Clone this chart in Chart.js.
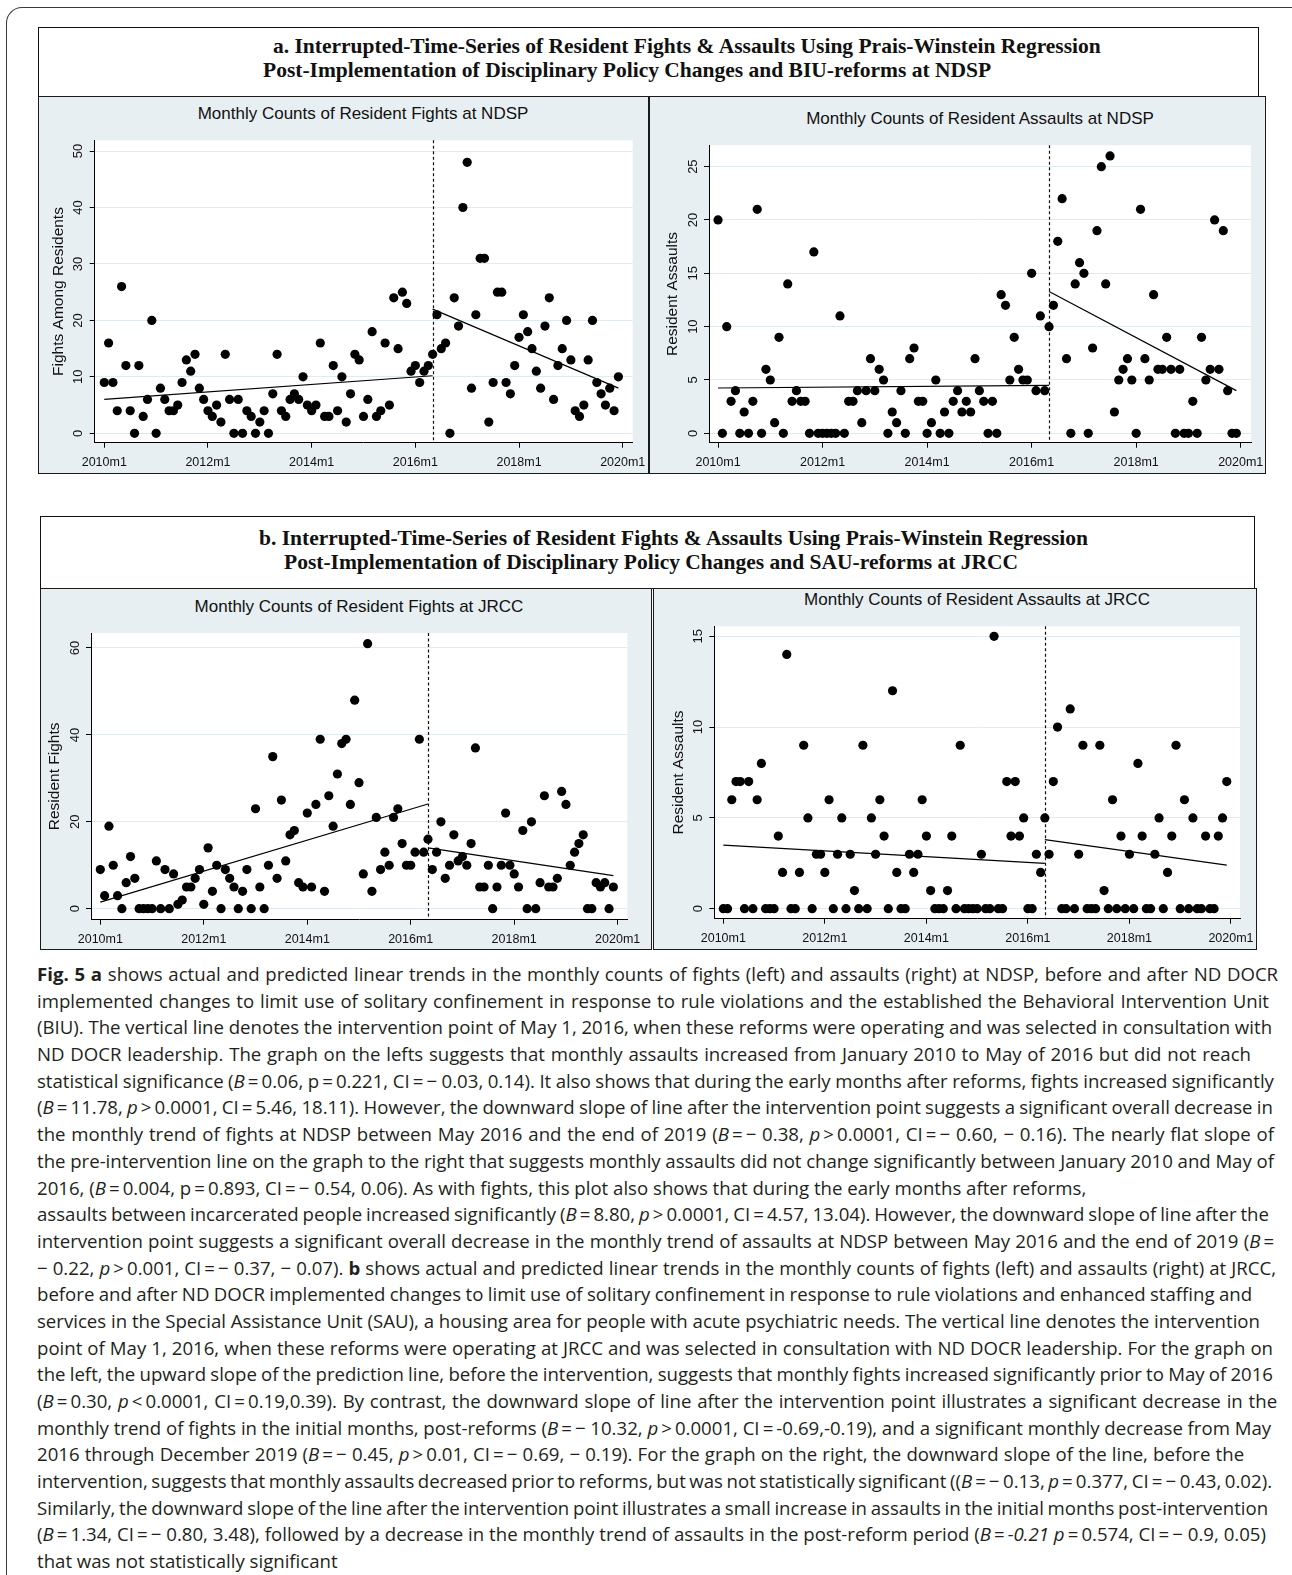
<!DOCTYPE html>
<html>
<head>
<meta charset="utf-8">
<title>Fig. 5 Interrupted time series, NDSP and JRCC</title>
<script src="https://cdn.jsdelivr.net/npm/chart.js@4.4.1/dist/chart.umd.min.js"></script>
<style>
  html, body { margin: 0; padding: 0; background: #fff; }
  body { position: relative; width: 1292px; height: 1575px; overflow: hidden; font-family: "Liberation Sans", Arial, sans-serif; color: #111; }
  .frame { position: absolute; left: 6px; top: 7px; width: 1400px; height: 1700px; border-left: 1.5px solid #3a3a3a; border-top: 1.5px solid #3a3a3a; border-top-left-radius: 16px; }
  .tbox { position: absolute; background: #fff; border: 1.5px solid #111; box-sizing: border-box; }
  .tline { position: absolute; white-space: nowrap; font-family: "Liberation Serif", "Times New Roman", serif; font-weight: bold; font-size: 21.5px; line-height: 24px; color: #111; }
  .panel { position: absolute; background: #e8eff2; border: 1.5px solid #1a1a1a; box-sizing: border-box; }
  canvas { position: absolute; }
  .ptitle { position: absolute; white-space: nowrap; font-size: 17px; line-height: 20px; transform: translateX(-50%); color: #111; }
  #caption { position: absolute; left: 37px; top: 961px; font-family: "Open Sans", sans-serif; font-size: 17px; color: #231f20; }
  #caption div { white-space: nowrap; width: max-content; height: 26.7px; line-height: 26.7px; }
</style>
</head>
<body>
<div class="frame"></div>

<div class="tbox" style="left:38px; top:27px; width:1221px; height:70px;"></div>
<div class="tline" style="left:273px; top:34px;">a. Interrupted-Time-Series of Resident Fights &amp; Assaults Using Prais-Winstein Regression</div>
<div class="tline" style="left:263px; top:58px;">Post-Implementation of Disciplinary Policy Changes and BIU-reforms at NDSP</div>

<div class="panel" style="left:38px; top:96px; width:611px; height:378px;"></div>
<div class="panel" style="left:649px; top:96px; width:617px; height:378px;"></div>
<div class="ptitle" style="left:363px; top:104px;">Monthly Counts of Resident Fights at NDSP</div>
<div class="ptitle" style="left:980px; top:109px;">Monthly Counts of Resident Assaults at NDSP</div>
<canvas id="ndspFightsChart"></canvas>
<canvas id="ndspAssaultsChart"></canvas>

<div class="tbox" style="left:40px; top:516px; width:1215px; height:73px;"></div>
<div class="tline" style="left:259px; top:526px;">b. Interrupted-Time-Series of Resident Fights &amp; Assaults Using Prais-Winstein Regression</div>
<div class="tline" style="left:284px; top:550px;">Post-Implementation of Disciplinary Policy Changes and SAU-reforms at JRCC</div>

<div class="panel" style="left:40px; top:588px; width:612px; height:362px;"></div>
<div class="panel" style="left:653px; top:588px; width:604px; height:362px;"></div>
<div class="ptitle" style="left:359px; top:597px;">Monthly Counts of Resident Fights at JRCC</div>
<div class="ptitle" style="left:977px; top:590px;">Monthly Counts of Resident Assaults at JRCC</div>
<canvas id="jrccFightsChart"></canvas>
<canvas id="jrccAssaultsChart"></canvas>

<div id="caption">
<div><b>Fig. 5 a</b> shows actual and predicted linear trends in the monthly counts of fights (left) and assaults (right) at NDSP, before and after ND DOCR</div>
<div>implemented changes to limit use of solitary confinement in response to rule violations and the established the Behavioral Intervention Unit</div>
<div>(BIU). The vertical line denotes the intervention point of May 1, 2016, when these reforms were operating and was selected in consultation with</div>
<div>ND DOCR leadership. The graph on the lefts suggests that monthly assaults increased from January 2010 to May of 2016 but did not reach</div>
<div>statistical significance (<i>B</i>&thinsp;=&thinsp;0.06, p&thinsp;=&thinsp;0.221, CI&thinsp;=&thinsp;− 0.03, 0.14). It also shows that during the early months after reforms, fights increased significantly</div>
<div>(<i>B</i>&thinsp;=&thinsp;11.78, <i>p</i>&thinsp;&gt;&thinsp;0.0001, CI&thinsp;=&thinsp;5.46, 18.11). However, the downward slope of line after the intervention point suggests a significant overall decrease in</div>
<div>the monthly trend of fights at NDSP between May 2016 and the end of 2019 (<i>B</i>&thinsp;=&thinsp;− 0.38, <i>p</i>&thinsp;&gt;&thinsp;0.0001, CI&thinsp;=&thinsp;− 0.60, − 0.16). The nearly flat slope of</div>
<div>the pre-intervention line on the graph to the right that suggests monthly assaults did not change significantly between January 2010 and May of</div>
<div>2016, (<i>B</i>&thinsp;=&thinsp;0.004, p&thinsp;=&thinsp;0.893, CI&thinsp;=&thinsp;− 0.54, 0.06). As with fights, this plot also shows that during the early months after reforms,</div>
<div>assaults between incarcerated people increased significantly (<i>B</i>&thinsp;=&thinsp;8.80, <i>p</i>&thinsp;&gt;&thinsp;0.0001, CI&thinsp;=&thinsp;4.57, 13.04). However, the downward slope of line after the</div>
<div>intervention point suggests a significant overall decrease in the monthly trend of assaults at NDSP between May 2016 and the end of 2019 (<i>B</i>&thinsp;=</div>
<div>− 0.22, <i>p</i>&thinsp;&gt;&thinsp;0.001, CI&thinsp;=&thinsp;− 0.37, − 0.07). <b>b</b> shows actual and predicted linear trends in the monthly counts of fights (left) and assaults (right) at JRCC,</div>
<div>before and after ND DOCR implemented changes to limit use of solitary confinement in response to rule violations and enhanced staffing and</div>
<div>services in the Special Assistance Unit (SAU), a housing area for people with acute psychiatric needs. The vertical line denotes the intervention</div>
<div>point of May 1, 2016, when these reforms were operating at JRCC and was selected in consultation with ND DOCR leadership. For the graph on</div>
<div>the left, the upward slope of the prediction line, before the intervention, suggests that monthly fights increased significantly prior to May of 2016</div>
<div>(<i>B</i>&thinsp;=&thinsp;0.30, <i>p</i>&thinsp;&lt;&thinsp;0.0001, CI&thinsp;=&thinsp;0.19,0.39). By contrast, the downward slope of line after the intervention point illustrates a significant decrease in the</div>
<div>monthly trend of fights in the initial months, post-reforms (<i>B</i>&thinsp;=&thinsp;− 10.32, <i>p</i>&thinsp;&gt;&thinsp;0.0001, CI&thinsp;=&thinsp;-0.69,-0.19), and a significant monthly decrease from May</div>
<div>2016 through December 2019 (<i>B</i>&thinsp;=&thinsp;− 0.45, <i>p</i>&thinsp;&gt;&thinsp;0.01, CI&thinsp;=&thinsp;− 0.69, − 0.19). For the graph on the right, the downward slope of the line, before the</div>
<div>intervention, suggests that monthly assaults decreased prior to reforms, but was not statistically significant ((<i>B</i>&thinsp;=&thinsp;− 0.13, <i>p</i>&thinsp;=&thinsp;0.377, CI&thinsp;=&thinsp;− 0.43, 0.02).</div>
<div>Similarly, the downward slope of the line after the intervention point illustrates a small increase in assaults in the initial months post-intervention</div>
<div>(<i>B</i>&thinsp;=&thinsp;1.34, CI&thinsp;=&thinsp;− 0.80, 3.48), followed by a decrease in the monthly trend of assaults in the post-reform period (<i>B</i>&thinsp;=&thinsp;<i>-0.21 p</i>&thinsp;=&thinsp;0.574, CI&thinsp;=&thinsp;− 0.9, 0.05)</div>
<div>that was not statistically significant</div>
</div>

<script>
// x axis: month index, 0 = 2010m1 ... 119 = 2019m12
const xTickMonths = [0, 24, 48, 72, 96, 120];
const xTickLabels = ['2010m1', '2012m1', '2014m1', '2016m1', '2018m1', '2020m1'];
const interventionMonth = 76; // 2016m5

// monthly counts, 2010m1 - 2019m12
const ndspFights = [
  9, 16, 9, 4, 26, 12, 4, 0, 12, 3, 6, 20,
  0, 8, 6, 4, 4, 5, 9, 13, 11, 14, 8, 6,
  4, 3, 5, 2, 14, 6, 0, 6, 0, 4, 3, 0,
  2, 4, 0, 7, 14, 4, 3, 6, 7, 6, 10, 5,
  4, 5, 16, 3, 3, 12, 4, 10, 2, 7, 14, 13,
  3, 6, 18, 3, 4, 16, 5, 24, 15, 25, 23, 11,
  12, 9, 11, 12, 14, 21, 15, 16, 0, 24, 19, 40,
  48, 8, 21, 31, 31, 2, 9, 25, 25, 9, 7, 12,
  17, 21, 18, 15, 11, 8, 19, 24, 6, 12, 15, 20,
  13, 4, 3, 5, 13, 20, 9, 7, 5, 8, 4, 10
];
const ndspAssaults = [
  20, 0, 10, 3, 4, 0, 2, 0, 3, 21, 0, 6,
  5, 1, 9, 0, 14, 3, 4, 3, 3, 0, 17, 0,
  0, 0, 0, 0, 11, 0, 3, 3, 4, 1, 4, 7,
  4, 6, 5, 0, 2, 1, 4, 0, 7, 8, 3, 3,
  0, 1, 5, 0, 2, 0, 3, 4, 2, 3, 2, 7,
  4, 3, 0, 3, 0, 13, 12, 5, 9, 6, 5, 5,
  15, 4, 11, 4, 10, 12, 18, 22, 7, 0, 14, 16,
  15, 0, 8, 19, 25, 14, 26, 2, 5, 6, 7, 5,
  0, 21, 7, 5, 13, 6, 6, 9, 6, 0, 6, 0,
  0, 3, 0, 9, 5, 6, 20, 6, 19, 4, 0, 0
];
const jrccFights = [
  9, 3, 19, 10, 3, 0, 6, 12, 7, 0, 0, 0,
  0, 11, 0, 9, 0, 8, 1, 2, 5, 5, 7, 9,
  1, 14, 4, 10, 0, 9, 7, 5, 0, 4, 9, 0,
  23, 5, 0, 10, 35, 7, 25, 11, 17, 18, 6, 5,
  22, 5, 24, 39, 4, 26, 19, 31, 38, 39, 24, 48,
  29, 8, 61, 4, 21, 9, 13, 10, 21, 23, 15, 10,
  10, 13, 39, 13, 16, 9, 13, 20, 7, 10, 17, 11,
  12, 10, 15, 37, 5, 5, 10, 0, 5, 10, 22, 10,
  8, 5, 18, 0, 20, 0, 6, 26, 5, 5, 7, 27,
  24, 10, 13, 15, 17, 0, 0, 6, 5, 6, 0, 5
];
const jrccAssaults = [
  0, 0, 6, 7, 7, 0, 7, 0, 6, 8, 0, 0,
  0, 4, 2, 14, 0, 0, 2, 9, 5, 0, 3, 3,
  2, 6, 0, 3, 5, 0, 3, 1, 0, 9, 0, 5,
  3, 6, 4, 0, 12, 2, 0, 0, 3, 2, 3, 6,
  4, 1, 0, 0, 0, 1, 4, 0, 9, 0, 0, 0,
  0, 3, 0, 0, 15, 0, 0, 7, 4, 7, 4, 5,
  0, 0, 3, 2, 5, 3, 7, 10, 0, 0, 11, 0,
  3, 9, 0, 0, 0, 9, 1, 0, 6, 0, 4, 0,
  3, 0, 8, 4, 0, 0, 3, 5, 0, 2, 4, 9,
  0, 6, 0, 5, 0, 0, 4, 0, 0, 4, 5, 7
];

// predicted (Prais-Winsten) lines: start and end values
const preMonths = [0, 76];
const postMonths = [76, 119];
const ndspFightsPre = [6.0, 10.2];
const ndspFightsPost = [22.0, 8.0];
const ndspAssaultsPre = [4.25, 4.5];
const ndspAssaultsPost = [13.3, 4.0];
const jrccFightsPre = [1.5, 24.1];
const jrccFightsPost = [14.0, 7.6];
const jrccAssaultsPre = [3.5, 2.5];
const jrccAssaultsPost = [3.8, 2.4];

const ndspFightsYTicks = [0, 10, 20, 30, 40, 50];
const ndspAssaultsYTicks = [0, 5, 10, 15, 20, 25];
const jrccFightsYTicks = [0, 20, 40, 60];
const jrccAssaultsYTicks = [0, 5, 10, 15];

const stataLook = {
    id: 'stataLook',
    beforeDraw(chart) {
        const { ctx, chartArea: a } = chart;
        ctx.save();
        ctx.fillStyle = '#fff';
        ctx.fillRect(a.left, a.top, a.right - a.left, a.bottom - a.top);
        ctx.restore();
    },
    beforeDatasetsDraw(chart) {
        const { ctx, chartArea: a, scales: { x } } = chart;
        const px = Math.round(x.getPixelForValue(interventionMonth)) + 0.5;
        ctx.save();
        ctx.strokeStyle = '#111';
        ctx.lineWidth = 1.2;
        ctx.setLineDash([3, 2.5]);
        ctx.beginPath();
        ctx.moveTo(px, a.top);
        ctx.lineTo(px, a.bottom);
        ctx.stroke();
        ctx.restore();
    },
    afterDraw(chart, args, opts) {
        const { ctx, chartArea: a, scales: { y } } = chart;
        ctx.save();
        ctx.fillStyle = '#111';
        ctx.textAlign = 'center';
        ctx.textBaseline = 'middle';
        ctx.font = '13px "Liberation Sans", Arial, sans-serif';
        y.ticks.forEach(t => {
            ctx.save();
            ctx.translate(a.left - opts.labelGap, y.getPixelForValue(t.value));
            ctx.rotate(-Math.PI / 2);
            ctx.fillText(String(t.value), 0, 0);
            ctx.restore();
        });
        ctx.font = '15.5px "Liberation Sans", Arial, sans-serif';
        ctx.translate(a.left - opts.titleGap, (a.top + a.bottom) / 2);
        ctx.rotate(-Math.PI / 2);
        ctx.fillText(opts.yTitle, 0, 0);
        ctx.restore();
    }
};

function makeChart(id, panel, plot, xRange, yRange, yTicks, yTitle, counts, pre, post) {
    const canvas = document.getElementById(id);
    canvas.width = panel.r - panel.l;
    canvas.height = panel.b - panel.t;
    canvas.style.left = panel.l + 'px';
    canvas.style.top = panel.t + 'px';
    const bottomSpace = panel.b - plot.b;

    const fitLine = (months, vals) => ({
        data: [{ x: months[0], y: vals[0] }, { x: months[1], y: vals[1] }],
        showLine: true,
        borderColor: '#000',
        borderWidth: 1.2,
        pointRadius: 0,
        pointHoverRadius: 0
    });

    return new Chart(canvas, {
        type: 'scatter',
        data: {
            datasets: [
                fitLine(preMonths, pre),
                fitLine(postMonths, post),
                {
                    data: counts.map((v, i) => ({ x: i, y: v })),
                    pointRadius: 4.6,
                    pointHoverRadius: 4.6,
                    backgroundColor: '#000',
                    borderWidth: 0
                }
            ]
        },
        options: {
            responsive: false,
            animation: false,
            events: [],
            layout: {
                padding: {
                    left: plot.l - panel.l,
                    top: plot.t - panel.t,
                    right: panel.r - plot.r,
                    bottom: 0
                }
            },
            plugins: {
                legend: { display: false },
                tooltip: { enabled: false },
                stataLook: { yTitle: yTitle, labelGap: 16, titleGap: 36 }
            },
            scales: {
                x: {
                    type: 'linear',
                    min: xRange[0],
                    max: xRange[1],
                    afterBuildTicks: s => { s.ticks = xTickMonths.map(v => ({ value: v })); },
                    ticks: {
                        callback: (v, i) => xTickLabels[i],
                        font: { family: '"Liberation Sans", Arial, sans-serif', size: 12.5 },
                        color: '#111',
                        padding: 7,
                        maxRotation: 0,
                        minRotation: 0,
                        autoSkip: false
                    },
                    grid: { drawOnChartArea: false, tickLength: 5, tickColor: '#000' },
                    border: { color: '#000', width: 1 },
                    afterFit: s => { s.height = bottomSpace; s.paddingLeft = 0; s.paddingRight = 0; }
                },
                y: {
                    type: 'linear',
                    min: yRange[0],
                    max: yRange[1],
                    afterBuildTicks: s => { s.ticks = yTicks.map(v => ({ value: v })); },
                    ticks: { display: false },
                    grid: { color: '#e1eaee', lineWidth: 1, tickLength: 5, tickColor: '#000' },
                    border: { color: '#000', width: 1 },
                    afterFit: s => { s.width = 0; s.paddingTop = 0; s.paddingBottom = 0; }
                }
            }
        },
        plugins: [stataLook]
    });
}

makeChart('ndspFightsChart',
    { l: 38, t: 96, r: 649, b: 474 }, { l: 94.7, t: 140.3, r: 632.7, b: 442.7 },
    [-2.22, 122.31], [-1.66, 51.9], ndspFightsYTicks, 'Fights Among Residents',
    ndspFights, ndspFightsPre, ndspFightsPost);

makeChart('ndspAssaultsChart',
    { l: 649, t: 96, r: 1266, b: 474 }, { l: 709, t: 145.3, r: 1251, b: 442.7 },
    [-2.07, 122.36], [-0.88, 27.0], ndspAssaultsYTicks, 'Resident Assaults',
    ndspAssaults, ndspAssaultsPre, ndspAssaultsPost);

makeChart('jrccFightsChart',
    { l: 40, t: 588, r: 652, b: 950 }, { l: 91, t: 633, r: 627.3, b: 919.7 },
    [-2.16, 122.23], [-2.53, 63.45], jrccFightsYTicks, 'Resident Fights',
    jrccFights, jrccFightsPre, jrccFightsPost);

makeChart('jrccAssaultsChart',
    { l: 653, t: 588, r: 1257, b: 950 }, { l: 714.3, t: 626.3, r: 1240, b: 918.7 },
    [-2.13, 122.13], [-0.55, 15.55], jrccAssaultsYTicks, 'Resident Assaults',
    jrccAssaults, jrccAssaultsPre, jrccAssaultsPost);

// caption: pick a size from the line widths, then stretch each full line to where it ends in the figure
const captionLeft = 37;
const captionLineEnds = [1278, 1269, 1272, 1251, 1274, 1273, 1274, 1274, null, 1269, 1274, 1276,
                         1252, 1260, 1273, 1273, 1277, 1271, 1244, 1272, 1268, 1266, null];
const caption = document.getElementById('caption');
const lines = Array.from(caption.children);
const ratios = lines
    .map((el, i) => captionLineEnds[i] ? (captionLineEnds[i] - captionLeft) / el.getBoundingClientRect().width : null)
    .filter(r => r !== null)
    .sort((a, b) => a - b);
const size = 17 * ratios[Math.floor(ratios.length / 2)];
caption.style.fontSize = size.toFixed(2) + 'px';
lines.forEach((el, i) => {
    const end = captionLineEnds[i];
    if (!end) return;
    const gaps = (el.textContent.match(/ /g) || []).length;
    const extra = (end - captionLeft) - el.getBoundingClientRect().width;
    if (gaps) el.style.wordSpacing = (extra / gaps).toFixed(2) + 'px';
});
</script>
</body>
</html>
